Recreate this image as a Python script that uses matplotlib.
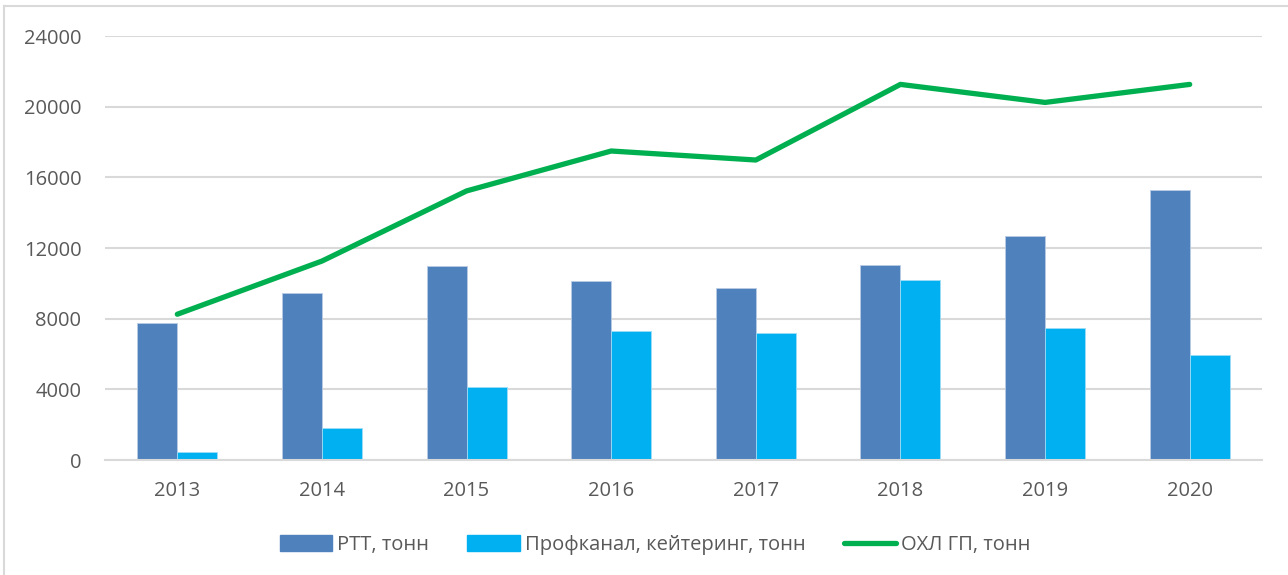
import matplotlib
matplotlib.use("Agg")
import matplotlib.pyplot as plt
from matplotlib.lines import Line2D
import numpy as np

years = ["2013", "2014", "2015", "2016", "2017", "2018", "2019", "2020"]
rtt = [7770, 9430, 11000, 10130, 9750, 11050, 12700, 15280]
prof = [450, 1790, 4150, 7300, 7170, 10170, 7470, 5960]
ohl = [8250, 11260, 15230, 17490, 16980, 21260, 20240, 21260]
yticks = [0, 4000, 8000, 12000, 16000, 20000, 24000]
labels = ["РТТ, тонн", "Профканал, кейтеринг, тонн", "ОХЛ ГП, тонн"]

plt.rcParams['font.family'] = ['Open Sans', 'DejaVu Sans']

fig = plt.figure(figsize=(12.88, 5.75), dpi=100)
ax = fig.add_axes([105/1288, 1-460/575, (1262-105)/1288, (460-36)/575])

x = np.arange(len(years))
w = 0.277
ax.bar(x - w/2, rtt, w, color="#4F81BD", edgecolor="#B8CCE4", linewidth=0.6, label=labels[0], zorder=2)
ax.bar(x + w/2, prof, w, color="#00B0F0", edgecolor="#9DDCF7", linewidth=0.6, label=labels[1], zorder=2)
ax.plot(x, ohl, color="#00B050", linewidth=3.8, solid_capstyle="round", label=labels[2], zorder=3)

ax.set_xlim(-0.5, len(years) - 0.5)
ax.set_ylim(0, 24000)
ax.set_yticks(yticks)
ax.set_yticklabels([str(v) for v in yticks])
ax.set_xticks(x)
ax.set_xticklabels(years)
ax.yaxis.grid(True, color="#D9D9D9", linewidth=1.5, zorder=0)
ax.set_axisbelow(True)
for s in ["top", "right", "left"]:
    ax.spines[s].set_visible(False)
ax.spines["bottom"].set_color("#D9D9D9")
ax.spines["bottom"].set_linewidth(1.5)
ax.tick_params(axis="both", length=0, labelsize=14.5, colors="#595959")
ax.tick_params(axis="y", pad=17)
ax.tick_params(axis="x", pad=15)

handles = [
    plt.Rectangle((0, 0), 1, 1, color="#4F81BD"),
    plt.Rectangle((0, 0), 1, 1, color="#00B0F0"),
    Line2D([0], [0], color="#00B050", linewidth=3.8, solid_capstyle="round"),
]
fig.legend(handles, labels, loc="center", bbox_to_anchor=(655/1288, 1-545/575), ncol=3,
           frameon=False, fontsize=14.5, labelcolor="#595959", handlelength=2.6,
           handleheight=0.8, handletextpad=0.25, columnspacing=1.9)

# chart frame
fig.add_artist(Line2D([4/1288, 4/1288], [0, 1-6/575], transform=fig.transFigure, color="#D9D9D9", linewidth=1.5))
fig.add_artist(Line2D([4/1288, 1], [1-6/575, 1-6/575], transform=fig.transFigure, color="#D9D9D9", linewidth=1.5))

fig.savefig("out.png", dpi=100)
